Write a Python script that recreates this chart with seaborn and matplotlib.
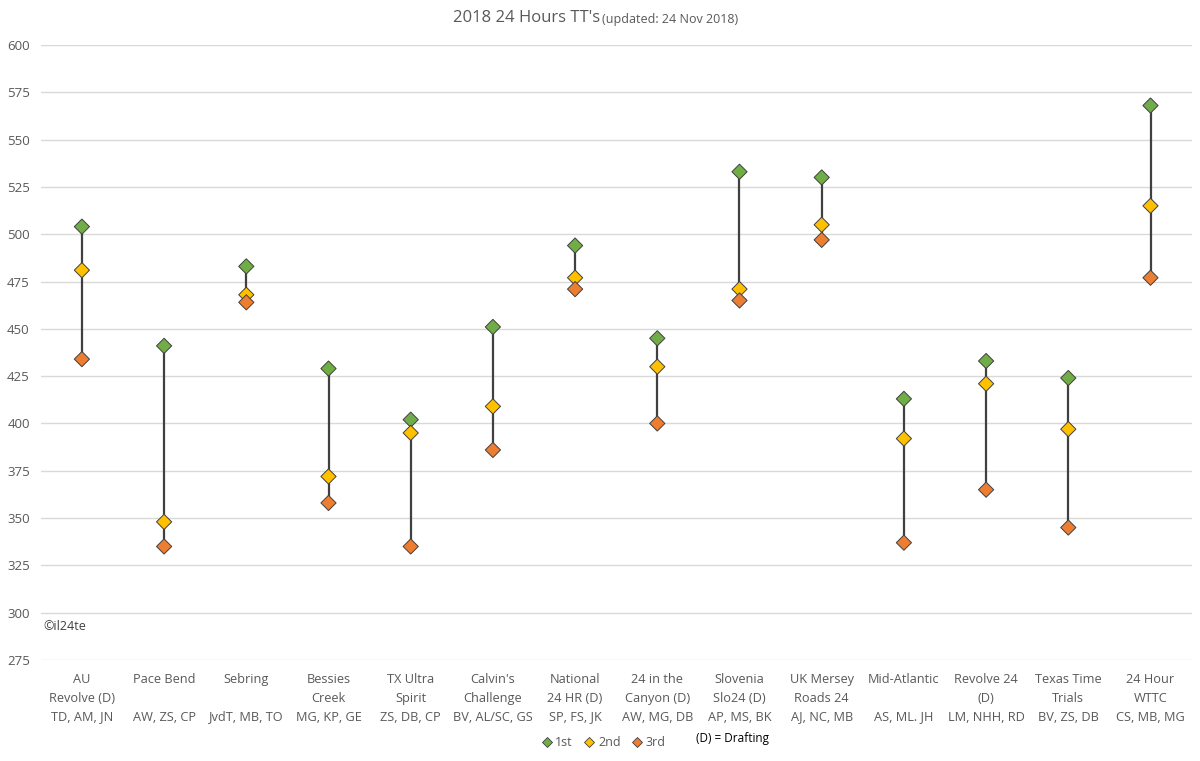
import matplotlib
matplotlib.use("Agg")
import matplotlib.pyplot as plt
import seaborn as sns
import pandas as pd
from matplotlib.lines import Line2D

races = ["AU\nRevolve (D)\nTD, AM, JN", "Pace Bend\n\nAW, ZS, CP", "Sebring\n\nJvdT, MB, TO",
         "Bessies\nCreek\nMG, KP, GE", "TX Ultra\nSpirit\nZS, DB, CP", "Calvin's\nChallenge\nBV, AL/SC, GS",
         "National\n24 HR (D)\nSP, FS, JK", "24 in the\nCanyon (D)\nAW, MG, DB", "Slovenia\nSlo24 (D)\nAP, MS, BK",
         "UK Mersey\nRoads 24\nAJ, NC, MB", "Mid-Atlantic\n\nAS, ML. JH", "Revolve 24\n(D)\nLM, NHH, RD",
         "Texas Time\nTrials\nBV, ZS, DB", "24 Hour\nWTTC\nCS, MB, MG"]
first = [504, 441, 483, 429, 402, 451, 494, 445, 533, 530, 413, 433, 424, 568]
second = [481, 348, 468, 372, 395, 409, 477, 430, 471, 505, 392, 421, 397, 515]
third = [434, 335, 464, 358, 335, 386, 471, 400, 465, 497, 337, 365, 345, 477]
places = ["1st", "2nd", "3rd"]
colors = ["#70ad47", "#ffc000", "#ed7d31"]
yticks = [275, 300, 325, 350, 375, 400, 425, 450, 475, 500, 525, 550, 575, 600]

rows = []
for i, r in enumerate(races):
    for p, v in zip(places, [first[i], second[i], third[i]]):
        rows.append({"idx": i, "race": r, "place": p, "value": v})
df = pd.DataFrame(rows)

sns.set_theme(style="white")
plt.rcParams["font.family"] = ["Open Sans", "DejaVu Sans"]

fig = plt.figure(figsize=(12, 7.61), dpi=100)
ax = fig.add_axes([0.034, 0.1327, 0.959, 0.8082])

# vertical connecting lines
sns.lineplot(data=df, x="idx", y="value", units="race", estimator=None, sort=False,
             color="#404040", linewidth=1.6, ax=ax, legend=False, zorder=2)
sns.scatterplot(data=df, x="idx", y="value", hue="place", hue_order=places,
                palette=colors, marker="D", s=60, edgecolor="#404040", linewidth=0.7,
                ax=ax, zorder=3, legend=False)

ax.set_xlim(-0.5, len(races) - 0.5)
ax.set_ylim(275, 600)
ax.set_yticks(yticks)
ax.set_xticks(range(len(races)))
ax.set_xticklabels(races, fontsize=9.2, color="#595959", linespacing=1.6)
ax.tick_params(axis="y", labelsize=9.5, labelcolor="#595959", length=0, pad=8)
ax.tick_params(axis="x", length=0, pad=9)
ax.yaxis.grid(True, color="#d9d9d9", linewidth=1)
ax.set_axisbelow(True)
for s in ax.spines.values():
    s.set_visible(False)
ax.set_xlabel("")
ax.set_ylabel("")

# title
fig.text(0.5, 0.976, "2018 24 Hours TT's", ha="right", va="center", fontsize=12, color="#595959")
fig.text(0.502, 0.975, "(updated: 24 Nov 2018)", ha="left", va="center", fontsize=9, color="#595959")

# copyright
ax.text(0.002, 0.054, "©il24te", transform=ax.transAxes, fontsize=9, color="#404040", va="center")

handles = [Line2D([], [], marker="D", linestyle="", markerfacecolor=c, markeredgecolor="#404040",
                  markeredgewidth=0.6, markersize=5.5) for c in colors]
fig.legend(handles, places, loc="center", bbox_to_anchor=(0.503, 0.024), ncol=3, frameon=False,
           fontsize=9, handlelength=0.8, handletextpad=0.3, columnspacing=0.9, labelcolor="#595959")
fig.text(0.58, 0.029, "(D) = Drafting", fontsize=8.5, color="#000000", va="center")

fig.savefig("out.png", dpi=100)
